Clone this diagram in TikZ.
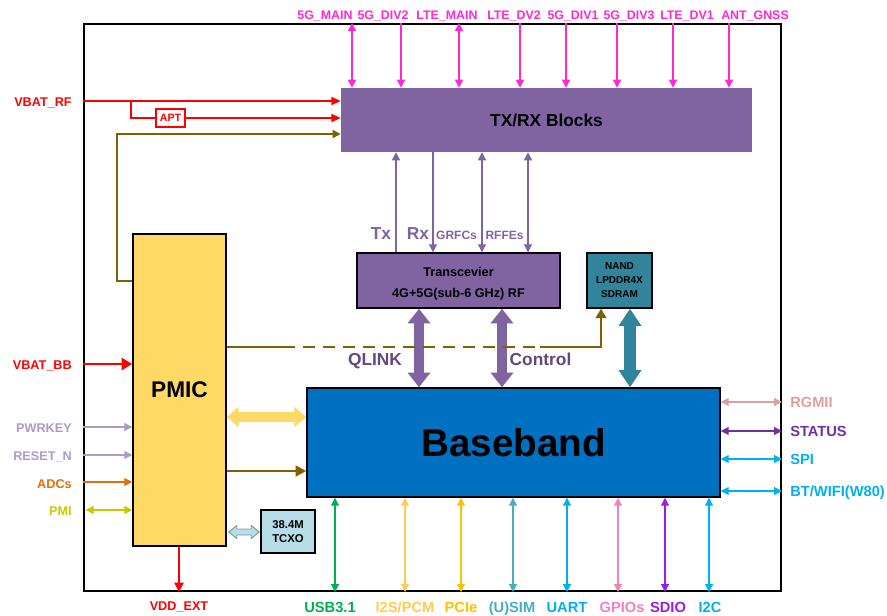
\documentclass[tikz,border=0pt]{standalone}
\usepackage{fontspec}
\setmainfont{Liberation Sans}
\usetikzlibrary{arrows.meta,fit,calc}
\definecolor{pinkc}{RGB}{255,40,210}
\definecolor{rfred}{RGB}{255,0,0}
\definecolor{purp}{RGB}{128,100,162}
\definecolor{dpurp}{RGB}{96,74,123}
\definecolor{brownc}{RGB}{128,96,0}
\definecolor{pmicy}{RGB}{255,217,102}
\definecolor{bbblue}{RGB}{0,112,192}
\definecolor{tealc}{RGB}{49,132,155}
\definecolor{tcxob}{RGB}{183,222,232}
\definecolor{tcxoe}{RGB}{120,150,170}
\definecolor{lav}{RGB}{170,155,200}
\definecolor{orangec}{RGB}{228,108,10}
\definecolor{pmig}{RGB}{200,200,0}
\definecolor{rgmiic}{RGB}{218,160,155}
\definecolor{statusc}{RGB}{112,48,160}
\definecolor{cyanc}{RGB}{0,176,240}
\definecolor{usbg}{RGB}{0,176,80}
\definecolor{i2sc}{RGB}{255,204,80}
\definecolor{pciec}{RGB}{255,192,0}
\definecolor{simc}{RGB}{75,172,198}
\definecolor{gpioc}{RGB}{240,130,190}
\definecolor{sdioc}{RGB}{150,30,230}
\begin{document}
\begin{tikzpicture}[x=0.75pt,y=-0.75pt]
\tikzset{
  fs/.style={font=\bfseries\fontsize{#1}{#1}\selectfont},
  lbl/.style={inner sep=0pt, fs=#1},
  box/.style={draw=black, line width=1.1pt, inner sep=0pt},
  tipt/.tip={Triangle[width=6pt,length=6pt]},
  sarrow/.style={line width=0.9pt, -tipt},
  darrow/.style={line width=0.9pt, tipt-tipt},
}
\useasboundingbox (0,0) rectangle (887,615);

% frame
\node[fit={(84,24)(781,591)}, draw=black, line width=1.5pt, inner sep=0pt] (frame) {};

% boxes
\node[fit={(341,88)(752,152)}, fill=purp, inner sep=0pt,
  label={[lbl=13]center:TX/RX Blocks}] (txrx) {};
\node[box, fill=purp, fit={(357,253)(560,308)},
  label={[inner sep=0pt, yshift=-2.5pt, align=center, font=\bfseries\fontsize{9.5}{16}\selectfont]center:Transcevier\\4G+5G(sub-6 GHz) RF}] (trx) {};
\node[box, fill=tealc, fit={(587,253)(652,308)},
  label={[inner sep=0pt, align=center, font=\bfseries\fontsize{7.5}{10.5}\selectfont]center:NAND\\LPDDR4X\\SDRAM}] (nand) {};
\node[box, fill=pmicy, fit={(133,234)(226,546)},
  label={[lbl=17]center:PMIC}] (pmic) {};
\node[box, fill=bbblue, fit={(307,388)(720,497)},
  label={[lbl=29]center:Baseband}] (bb) {};
\node[box, fill=tcxob, fit={(261,510)(315,553)},
  label={[inner sep=0pt, align=center, font=\bfseries\fontsize{8.5}{10.5}\selectfont]center:38.4M\\TCXO}] (tcxo) {};
\node[draw=rfred, line width=0.9pt, fill=white, fit={(156,109)(185,127)}, inner sep=0pt,
  label={[lbl=8, text=rfred]center:APT}] (apt) {};

% top antenna arrows
\foreach \x in {352,459} {
  \coordinate (tp\x) at (\x,0);
  \draw[pinkc, darrow] (frame.north -| tp\x) -- (txrx.north -| tp\x);
}
\foreach \x in {401,520,566,617,673,729} {
  \coordinate (tp\x) at (\x,0);
  \draw[pinkc, sarrow] (frame.north -| tp\x) -- (txrx.north -| tp\x);
}
\foreach \x/\t in {325/5G\_MAIN, 383/5G\_DIV2, 447/LTE\_MAIN, 514/LTE\_DV2, 573/5G\_DIV1, 629/5G\_DIV3, 687/LTE\_DV1, 755/ANT\_GNSS} {
  \node[lbl=9.3, text=pinkc, anchor=mid] (tl\x) at (\x,15.5) {\t};
}

% VBAT_RF and APT
\coordinate (Yrf) at (0,101);
\coordinate (br) at (131,101);
\node[lbl=9.5, text=rfred, anchor=mid east] (lvrf) at (72,102.5) {VBAT\_RF};
\draw[rfred, line width=1.1pt, -{Triangle[width=6pt,length=7pt]}] (frame.west |- Yrf) -- (txrx.west |- Yrf);
\draw[rfred, line width=1.1pt] (br) |- (apt.west);
\draw[rfred, line width=1.1pt, -{Triangle[width=6pt,length=7pt]}] (apt.east) -- (txrx.west |- apt.east);

% brown supply to TX/RX
\coordinate (Yb) at (0,281);
\coordinate (bc) at (117,134);
\draw[brownc, line width=1.1pt, -{Triangle[width=6pt,length=6pt]}] (pmic.west |- Yb) -| (bc) -- (txrx.west |- bc);

% Tx/Rx/GRFCs/RFFEs
\coordinate (xtx) at (396,0);
\coordinate (xrx) at (433,0);
\coordinate (xgr) at (482,0);
\coordinate (xrf) at (528,0);
\draw[purp, sarrow] (trx.north -| xtx) -- (txrx.south -| xtx);
\draw[purp, sarrow] (txrx.south -| xrx) -- (trx.north -| xrx);
\draw[purp, darrow] (txrx.south -| xgr) -- (trx.north -| xgr);
\draw[purp, darrow] (txrx.south -| xrf) -- (trx.north -| xrf);
\node[lbl=13, text=purp, anchor=mid] (ltx) at (381,236) {Tx};
\node[lbl=13, text=purp, anchor=mid] (lrx) at (418,236) {Rx};
\node[lbl=9, text=purp, anchor=mid] (lgr) at (456.5,235.5) {GRFCs};
\node[lbl=9, text=purp, anchor=mid] (lrff) at (504.5,235.5) {RFFEs};

% QLINK / Control / memory
\coordinate (xql) at (419,0);
\coordinate (xct) at (502,0);
\coordinate (xmem) at (630,0);
\draw[purp, line width=7.5pt, {Triangle[width=16.5pt,length=11pt]}-{Triangle[width=16.5pt,length=11pt]}] (trx.south -| xql) -- (bb.north -| xql);
\draw[purp, line width=7.5pt, {Triangle[width=16.5pt,length=11pt]}-{Triangle[width=16.5pt,length=11pt]}] (trx.south -| xct) -- (bb.north -| xct);
\draw[tealc, line width=9pt, {Triangle[width=16.5pt,length=13pt]}-{Triangle[width=16.5pt,length=13pt]}] (nand.south -| xmem) -- (bb.north -| xmem);
\node[lbl=13, text=dpurp, anchor=mid] (lql) at (375,362) {QLINK};
\node[lbl=13, text=dpurp, anchor=mid] (lct) at (540.5,362) {Control};

% dashed brown to memory
\coordinate (Yd) at (0,347);
\coordinate (d1) at (283,347);
\coordinate (d2) at (540,347);
\coordinate (xn) at (601,0);
\draw[brownc, line width=1.5pt] (pmic.east |- Yd) -- (d1);
\draw[brownc, line width=1.5pt, dash pattern=on 9pt off 6pt] (d1) -- (d2);
\draw[brownc, line width=1.5pt, -{Triangle[width=8pt,length=7pt]}] (d2) -- (xn |- d2) -- (nand.south -| xn);

% PMIC to baseband
\coordinate (Yy) at (0,417);
\coordinate (Ybr) at (0,471);
\draw[pmicy, line width=7.5pt, {Triangle[width=15pt,length=9pt]}-{Triangle[width=15pt,length=9pt]}] (pmic.east |- Yy) -- (bb.west |- Yy);
\draw[brownc, line width=1.9pt, -{Triangle[width=8pt,length=8pt]}] (pmic.east |- Ybr) -- (bb.west |- Ybr);

% TCXO link (hollow double arrow)
\coordinate (Yt) at (0,532);
\coordinate (ta) at ($(pmic.east |- Yt)+(2,0)$);
\coordinate (tb) at ($(tcxo.west |- Yt)+(-1,0)$);
\draw[tcxoe, fill=tcxob, line width=0.7pt, line join=miter]
  (ta) -- ($(ta)+(8,-6.5)$) -- ($(ta)+(8,-3)$) -- ($(tb)+(-8,-3)$) -- ($(tb)+(-8,-6.5)$)
  -- (tb) -- ($(tb)+(-8,6.5)$) -- ($(tb)+(-8,3)$) -- ($(ta)+(8,3)$) -- ($(ta)+(8,6.5)$) -- cycle;

% left inputs
\foreach \y/\n in {364/vbb, 427/pwr, 455/rst, 482/adc, 510/pmi} {\coordinate (Y\n) at (0,\y);}
\draw[rfred, line width=1.9pt, -{Triangle[width=9pt,length=8pt]}] (frame.west |- Yvbb) -- (pmic.west |- Yvbb);
\draw[lav, sarrow] (frame.west |- Ypwr) -- (pmic.west |- Ypwr);
\draw[lav, sarrow] (frame.west |- Yrst) -- (pmic.west |- Yrst);
\draw[orangec, sarrow] (frame.west |- Yadc) -- (pmic.west |- Yadc);
\draw[pmig, darrow] ([xshift=2pt]frame.west |- Ypmi) -- (pmic.west |- Ypmi);
\node[lbl=9.5, text=rfred, anchor=mid east] (lvbb) at (72,365.5) {VBAT\_BB};
\node[lbl=9.5, text=lav, anchor=mid east] (lpwr) at (72,428.5) {PWRKEY};
\node[lbl=9.5, text=lav, anchor=mid east] (lrst) at (72,456.5) {RESET\_N};
\node[lbl=9.5, text=orangec, anchor=mid east] (ladc) at (72,484.5) {ADCs};
\node[lbl=9.5, text=pmig, anchor=mid east] (lpmi) at (72,511.5) {PMI};

% VDD_EXT
\coordinate (xvdd) at (179,0);
\draw[rfred, line width=0.9pt, -{Triangle[width=7pt,length=7pt]}] (pmic.south -| xvdd) -- (frame.south -| xvdd);
\node[lbl=9.5, text=rfred, anchor=mid] (lvdd) at (179,606.5) {VDD\_EXT};

% right interfaces
\foreach \y/\c/\t in {402/rgmiic/{RGMII}, 431/statusc/{STATUS}, 459/cyanc/{SPI}, 491/cyanc/{BT/WIFI(W80)}} {
  \coordinate (R\y) at (0,\y);
  \draw[\c, darrow] (bb.east |- R\y) -- (frame.east |- R\y);
  \node[lbl=11, text=\c, anchor=mid west] (rl\y) at (790,\y+1.5) {\t};
}

% bottom interfaces
\foreach \x/\lx/\c/\t in {335/330/usbg/{USB3.1}, 405/405/i2sc/{I2S/PCM}, 461/461/pciec/{PCIe}, 513/512/simc/{(U)SIM}, 567/567/cyanc/{UART}, 618/622/gpioc/{GPIOs}, 665/668/sdioc/{SDIO}, 709/710/cyanc/{I2C}} {
  \coordinate (B\x) at (\x,0);
  \draw[\c, darrow] (bb.south -| B\x) -- (frame.south -| B\x);
  \node[lbl=11, text=\c, anchor=mid] (bl\x) at (\lx,608.5) {\t};
}
\end{tikzpicture}
\end{document}
